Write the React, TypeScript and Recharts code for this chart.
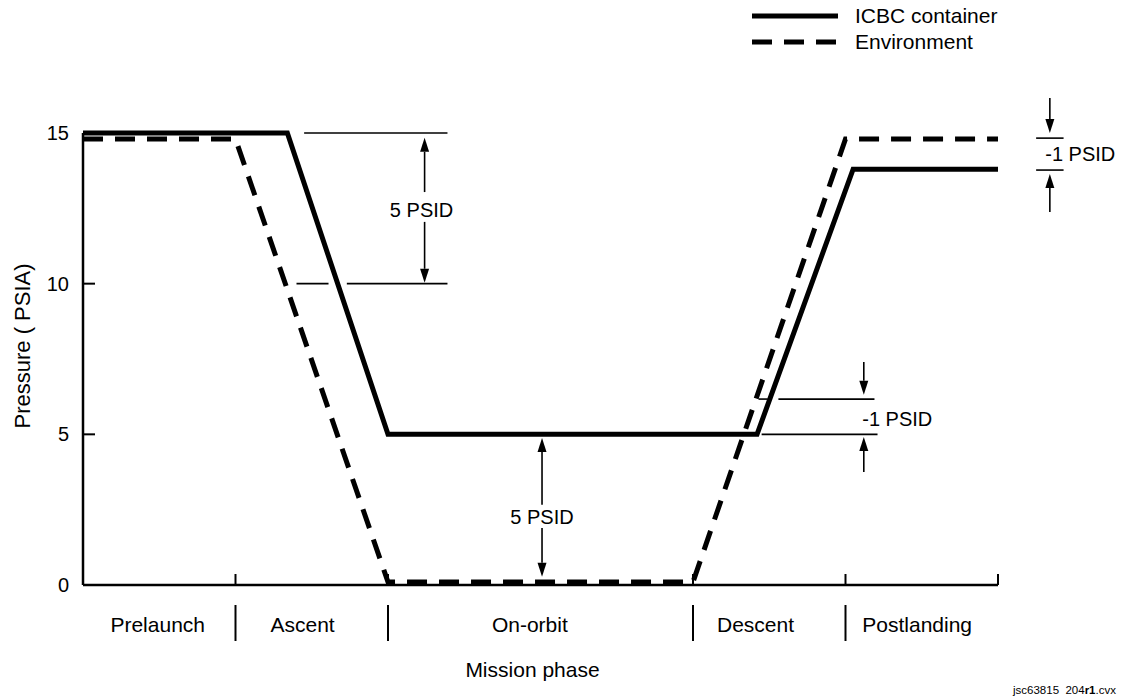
import React from 'react';
import { LineChart, Line, XAxis, YAxis, Legend, ReferenceLine, ReferenceDot } from 'recharts';

const FONT = '"Liberation Sans", Arial, Helvetica, sans-serif';

// pressure profiles, x in mission-phase units, y in PSIA
const icbcContainer = [
  { x: 0, y: 15 },
  { x: 1.34, y: 15 },
  { x: 2, y: 5 },
  { x: 4.42, y: 5 },
  { x: 5.05, y: 13.8 },
  { x: 6, y: 13.8 },
];
const environment = [
  { x: 0, y: 14.8 },
  { x: 1, y: 14.8 },
  { x: 2, y: 0.1 },
  { x: 4, y: 0.1 },
  { x: 5, y: 14.8 },
  { x: 6, y: 14.8 },
];

const phaseNames = ['Prelaunch', 'Ascent', 'On-orbit', 'Descent', 'Postlanding'];
const phaseBounds = [0, 1, 2, 4, 5, 6];
const phaseLabelAt = [0.49, 1.44, 2.93, 4.41, 5.47];
const pressureTicks = [0, 5, 10, 15];

const series = [
  { name: 'ICBC container', data: icbcContainer, dash: undefined as string | undefined },
  { name: 'Environment', data: environment, dash: '20 12' },
];

// dimension marks: plain lines, arrows (head on second point), labels
const dimLines = [
  [[1.45, 15], [2.39, 15]],
  [[1.4, 10], [1.61, 10]],
  [[1.73, 10], [2.39, 10]],
  [[4.43, 6.17], [4.49, 6.17]],
  [[4.56, 6.17], [5.19, 6.17]],
  [[4.45, 5], [5.21, 5]],
  [[6.25, 14.83], [6.43, 14.83]],
  [[6.25, 13.77], [6.43, 13.77]],
];
const dimArrows = [
  [[2.24, 13.04], [2.24, 14.84]],
  [[2.24, 12.05], [2.24, 10.03]],
  [[3.01, 2.66], [3.01, 4.88]],
  [[3.01, 1.89], [3.01, 0.27]],
  [[5.12, 7.4], [5.12, 6.31]],
  [[5.12, 3.75], [5.12, 4.91]],
  [[6.34, 16.16], [6.34, 15.0]],
  [[6.34, 12.38], [6.34, 13.64]],
];
const dimLabels = [
  { x: 2.22, y: 12.45, text: '5 PSID', anchor: 'middle' },
  { x: 3.01, y: 2.26, text: '5 PSID', anchor: 'middle' },
  { x: 5.11, y: 5.51, text: '-1 PSID', anchor: 'start' },
  { x: 6.31, y: 14.3, text: '-1 PSID', anchor: 'start' },
];

const ArrowShape = (p: any) => {
  const { x1, y1, x2, y2 } = p;
  const len = Math.hypot(x2 - x1, y2 - y1) || 1;
  const ux = (x2 - x1) / len;
  const uy = (y2 - y1) / len;
  const hl = 14;
  const hw = 4.5;
  const bx = x2 - ux * hl;
  const by = y2 - uy * hl;
  return (
    <g>
      <line x1={x1} y1={y1} x2={bx} y2={by} stroke="#000" strokeWidth={1.6} />
      <polygon
        points={`${x2},${y2} ${bx - uy * hw},${by + ux * hw} ${bx + uy * hw},${by - ux * hw}`}
        fill="#000"
      />
    </g>
  );
};

const PressureTick = ({ x, y, payload }: any) => (
  <g>
    <line x1={x} y1={y} x2={x + 12} y2={y} stroke="#000" strokeWidth={2} />
    <text x={x - 14} y={y} dy="0.35em" textAnchor="end" fontSize={20} fontFamily={FONT} fill="#000">
      {payload.value}
    </text>
  </g>
);

const PhaseTick = ({ x, y, payload }: any) => {
  const v = payload.value;
  const li = phaseLabelAt.indexOf(v);
  if (li >= 0) {
    return (
      <text x={x} y={y + 40} dy="0.35em" textAnchor="middle" fontSize={21} fontFamily={FONT} fill="#000">
        {phaseNames[li]}
      </text>
    );
  }
  const bi = phaseBounds.indexOf(v);
  return (
    <g>
      {v !== 0 && <line x1={x} y1={y} x2={x} y2={y - 11} stroke="#000" strokeWidth={2} />}
      {bi > 0 && bi < phaseBounds.length - 1 && (
        <line x1={x} y1={y + 20} x2={x} y2={y + 56} stroke="#000" strokeWidth={2} />
      )}
    </g>
  );
};

const LegendContent = ({ payload }: any) => {
  const items = series.filter((s) => (payload || []).some((e: any) => e.value === s.name));
  return (
    <div style={{ fontFamily: FONT, fontSize: 21, color: '#000' }}>
      {items.map((s) => (
        <div key={s.name} style={{ display: 'flex', alignItems: 'center', height: 26 }}>
          <svg width={86} height={8} style={{ display: 'block' }}>
            <line x1={0} y1={4} x2={86} y2={4} stroke="#000" strokeWidth={5} strokeDasharray={s.dash} />
          </svg>
          <span style={{ marginLeft: 17, lineHeight: '26px' }}>{s.name}</span>
        </div>
      ))}
    </div>
  );
};

export default function App() {
  return (
    <div style={{ position: 'absolute', left: 0, top: 0, width: 1123, height: 698, background: '#fff', overflow: 'hidden' }}>
      <LineChart width={1123} height={698} margin={{ top: 133, right: 125, bottom: 13, left: 0 }}>
        <XAxis
          type="number"
          dataKey="x"
          domain={[0, 6]}
          ticks={[...phaseBounds, ...phaseLabelAt]}
          interval={0}
          height={100}
          tickSize={0}
          tickMargin={0}
          tick={<PhaseTick />}
          axisLine={{ stroke: '#000', strokeWidth: 2.5 }}
          label={{
            content: (props: any) => {
              const vb = props.viewBox;
              return (
                <text
                  x={vb.x + vb.width / 2 - 8}
                  y={vb.y + 85}
                  dy="0.35em"
                  textAnchor="middle"
                  fontSize={21}
                  fontFamily={FONT}
                  fill="#000"
                >
                  Mission phase
                </text>
              );
            },
          }}
        />
        <YAxis
          type="number"
          domain={[0, 15]}
          ticks={pressureTicks}
          interval={0}
          width={83}
          tickSize={0}
          tickMargin={0}
          tick={<PressureTick />}
          axisLine={{ stroke: '#000', strokeWidth: 2.5 }}
          label={{
            content: (props: any) => {
              const vb = props.viewBox;
              const cx = vb.x + 22;
              const cy = vb.y + vb.height / 2 - 13;
              return (
                <text
                  x={cx}
                  y={cy}
                  dy="0.35em"
                  textAnchor="middle"
                  fontSize={22}
                  fontFamily={FONT}
                  fill="#000"
                  transform={`rotate(-90 ${cx} ${cy})`}
                >
                  Pressure ( PSIA)
                </text>
              );
            },
          }}
        />
        <Legend
          layout="horizontal"
          verticalAlign="middle"
          align="center"
          wrapperStyle={{ top: 3, left: 752, width: 'auto', height: 'auto' }}
          content={<LegendContent />}
        />
        {dimLines.map((seg, i) => (
          <ReferenceLine
            key={`dl${i}`}
            segment={[{ x: seg[0][0], y: seg[0][1] }, { x: seg[1][0], y: seg[1][1] }]}
            stroke="#000"
            strokeWidth={1.6}
            ifOverflow="visible"
          />
        ))}
        {dimArrows.map((seg, i) => (
          <ReferenceLine
            key={`da${i}`}
            segment={[{ x: seg[0][0], y: seg[0][1] }, { x: seg[1][0], y: seg[1][1] }]}
            ifOverflow="visible"
            shape={ArrowShape}
          />
        ))}
        {dimLabels.map((d, i) => (
          <ReferenceDot
            key={`lb${i}`}
            x={d.x}
            y={d.y}
            r={0}
            ifOverflow="visible"
            shape={(p: any) => (
              <text
                x={p.cx}
                y={p.cy}
                dy="0.35em"
                textAnchor={d.anchor as any}
                fontSize={20}
                fontFamily={FONT}
                fill="#000"
              >
                {d.text}
              </text>
            )}
          />
        ))}
        {series.map((s) => (
          <Line
            key={s.name}
            name={s.name}
            data={s.data}
            dataKey="y"
            type="linear"
            stroke="#000"
            strokeWidth={5}
            strokeDasharray={s.dash}
            strokeLinejoin="miter"
            dot={false}
            activeDot={false}
            isAnimationActive={false}
          />
        ))}
      </LineChart>
      <div
        style={{
          position: 'absolute',
          left: 1013,
          top: 683,
          fontFamily: FONT,
          fontSize: 11.5,
          color: '#000',
          whiteSpace: 'pre',
          lineHeight: '14px',
        }}
      >
        jsc63815  204<b>r1</b>.cvx
      </div>
    </div>
  );
}
